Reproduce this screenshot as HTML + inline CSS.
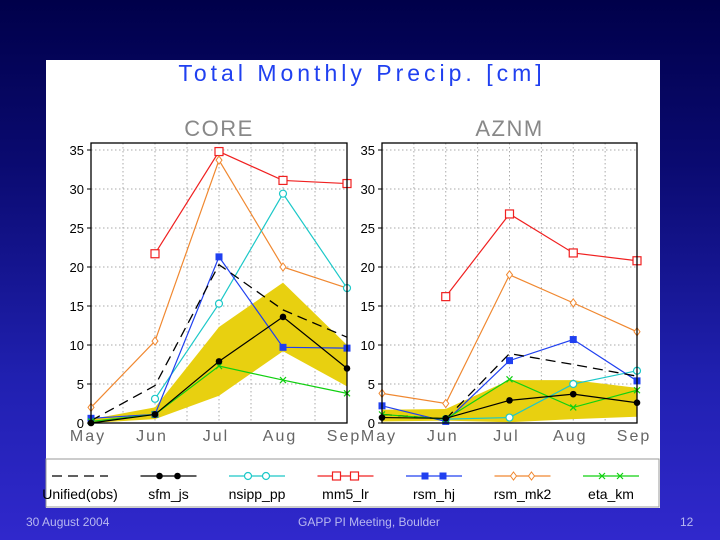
<!DOCTYPE html>
<html><head><meta charset="utf-8"><style>
body{margin:0;width:720px;height:540px;overflow:hidden;background:linear-gradient(#00004a 0%,#0a0a70 30%,#2020b0 70%,#3028cc 100%);font-family:"Liberation Sans",sans-serif;position:relative}
#panel{position:absolute;left:46px;top:60px;width:614px;height:448px;background:#fff}
.foot{position:absolute;top:515px;color:#b8b8f0;font-size:12px}
</style></head><body>
<div id="panel"></div>
<svg id="svg" width="720" height="540" style="position:absolute;left:0;top:0"></svg>
<div class="foot" style="left:26px">30 August 2004</div>
<div class="foot" style="left:298px">GAPP PI Meeting, Boulder</div>
<div class="foot" style="left:680px">12</div>
<script>
const months=["May","Jun","Jul","Aug","Sep"];
const yTicks=[0,5,10,15,20,25,30,35];
const seriesNames=["Unified(obs)","sfm_js","nsipp_pp","mm5_lr","rsm_hj","rsm_mk2","eta_km"];
const seriesColors=["#000","#000","#1cc8c8","#f02020","#2040f0","#f08830","#10d010"];
// CORE
const coreUnified=[0.3,4.8,20.3,14.5,11];
const coreSfm=[0,1.1,7.9,13.6,7];
const coreNsipp=[null,3.1,15.3,29.4,17.3];
const coreMm5=[null,21.7,34.8,31.1,30.7];
const coreRsmHj=[0.6,1.1,21.3,9.7,9.6];
const coreMk2=[2,10.5,33.7,20,17.3];
const coreEta=[0.2,1.1,7.3,5.5,3.8];
const coreBandLow=[0,0.5,3.5,9.2,4.7];
const coreBandHigh=[0.5,2,12.3,18,10];
// AZNM
const azUnified=[1.1,0.5,8.9,7.5,6];
const azSfm=[0.7,0.6,2.9,3.7,2.6];
const azNsipp=[null,0.5,0.7,5,6.7];
const azMm5=[null,16.2,26.8,21.8,20.8];
const azRsmHj=[2.2,0.2,8,10.7,5.4];
const azMk2=[3.8,2.5,19,15.4,11.7];
const azEta=[1.1,0.5,5.6,2,4.2];
const azBandLow=[0.2,0.3,0.1,0.5,0.8];
const azBandHigh=[1.7,1.8,5.5,5.5,4.5];

const svg=document.getElementById('svg');
const NS="http://www.w3.org/2000/svg";
function mk(t,a,p){const e=document.createElementNS(NS,t);for(const k in a)e.setAttribute(k,a[k]);(p||svg).appendChild(e);return e;}
function txt(s,x,y,a,p){const e=mk('text',Object.assign({x:x,y:y,'font-family':'Liberation Sans, sans-serif'},a),p);e.textContent=s;return e;}

let t=txt("Total Monthly Precip. [cm]",362,81,{'text-anchor':'middle','font-size':23,fill:'#2040f0','letter-spacing':'4'});



function marker(g,i,x,y,c){
  if(i==1){mk('circle',{cx:x,cy:y,r:3.3,fill:'#000'},g);}
  else if(i==2){mk('circle',{cx:x,cy:y,r:3.5,fill:'#fff',stroke:c,'stroke-width':1.2},g);}
  else if(i==3){mk('rect',{x:x-4,y:y-4,width:8,height:8,fill:'#fff',stroke:c,'stroke-width':1.2},g);}
  else if(i==4){mk('rect',{x:x-3.5,y:y-3.5,width:7,height:7,fill:c},g);}
  else if(i==5){mk('path',{d:`M${x} ${y-4}L${x+3} ${y}L${x} ${y+4}L${x-3} ${y}Z`,fill:'#fff',stroke:c},g);}
  else if(i==6){mk('path',{d:`M${x-3} ${y-3}L${x+3} ${y+3}M${x+3} ${y-3}L${x-3} ${y+3}`,stroke:c,'stroke-width':1.2},g);}
}

function panel(name,title,x0,x1,series,low,high){
  const y0=423,yT=150,yTop=143;
  const g=mk('g',{});
  
  
  const X=i=>x0+(x1-x0)*i/(months.length-1);
  const Y=v=>y0-(y0-yT)*v/35;
  const tt=txt(title,(x0+x1)/2,136,{'text-anchor':'middle','font-size':22,fill:'#888','letter-spacing':'1.5'},g);
  
  
  for(let i=0;i<=8;i++){const gx=x0+(x1-x0)*i/8;mk('line',{x1:gx,x2:gx,y1:yTop,y2:y0,stroke:'#aaa','stroke-dasharray':'1.5 2.5','stroke-width':1},g);}
  yTicks.forEach(v=>{mk('line',{x1:x0,x2:x1,y1:Y(v),y2:Y(v),stroke:'#aaa','stroke-dasharray':'1.5 2.5'},g);
    mk('line',{x1:x0-4,x2:x0,y1:Y(v),y2:Y(v),stroke:'#000'},g);
    txt(String(v),x0-7,Y(v)+5,{'text-anchor':'end','font-size':13,fill:'#000'},g);});
  months.forEach((m,i)=>{txt(m,X(i)-3,441,{'text-anchor':'middle','font-size':16,fill:'#666','letter-spacing':'2'},g);});
  let d='';low.forEach((v,i)=>{d+=(i?'L':'M')+X(i)+' '+Y(v);});
  for(let i=high.length-1;i>=0;i--)d+='L'+X(i)+' '+Y(high[i]);
  const band=mk('path',{d:d+'Z',fill:'#e8d010'},g);
  
  
  const order=[3,5,2,4,0,6,1];
  order.forEach(si=>{
    const vals=series[si],c=seriesColors[si];
    const sg=mk('g',{},g);
    
    
    let p='',started=false;
    vals.forEach((v,i)=>{if(v==null){started=false;return;}p+=(started?'L':'M')+X(i)+' '+Y(v);started=true;});
    mk('path',{d:p,fill:'none',stroke:c,'stroke-width':si==0?1.3:1.2,'stroke-dasharray':si==0?'10 6':'none'},sg);
    vals.forEach((v,i)=>{if(v!=null)marker(sg,si,X(i),Y(v),c);});
  });
  mk('rect',{x:x0,y:yTop,width:x1-x0,height:y0-yTop,fill:'none',stroke:'#000','stroke-width':1.3},g);
}
panel('core','CORE',91,347,[coreUnified,coreSfm,coreNsipp,coreMm5,coreRsmHj,coreMk2,coreEta],coreBandLow,coreBandHigh);
panel('aznm','AZNM',382,637,[azUnified,azSfm,azNsipp,azMm5,azRsmHj,azMk2,azEta],azBandLow,azBandHigh);

const lg=mk('g',{});


mk('rect',{x:46,y:459,width:613,height:48,fill:'#fff',stroke:'#999','stroke-width':1},lg);
seriesNames.forEach((n,i)=>{
  const cx=80+i*88.5;
  const e=mk('g',{},lg);
  
  
  mk('line',{x1:cx-28,x2:cx+28,y1:476,y2:476,stroke:seriesColors[i],'stroke-width':1.2,'stroke-dasharray':i==0?'10 6':'none'},e);
  if(i>0){marker(e,i,cx-9,476,seriesColors[i]);marker(e,i,cx+9,476,seriesColors[i]);}
  txt(n,cx,499,{'text-anchor':'middle','font-size':14,fill:'#000'},e);
});
</script>
</body></html>
